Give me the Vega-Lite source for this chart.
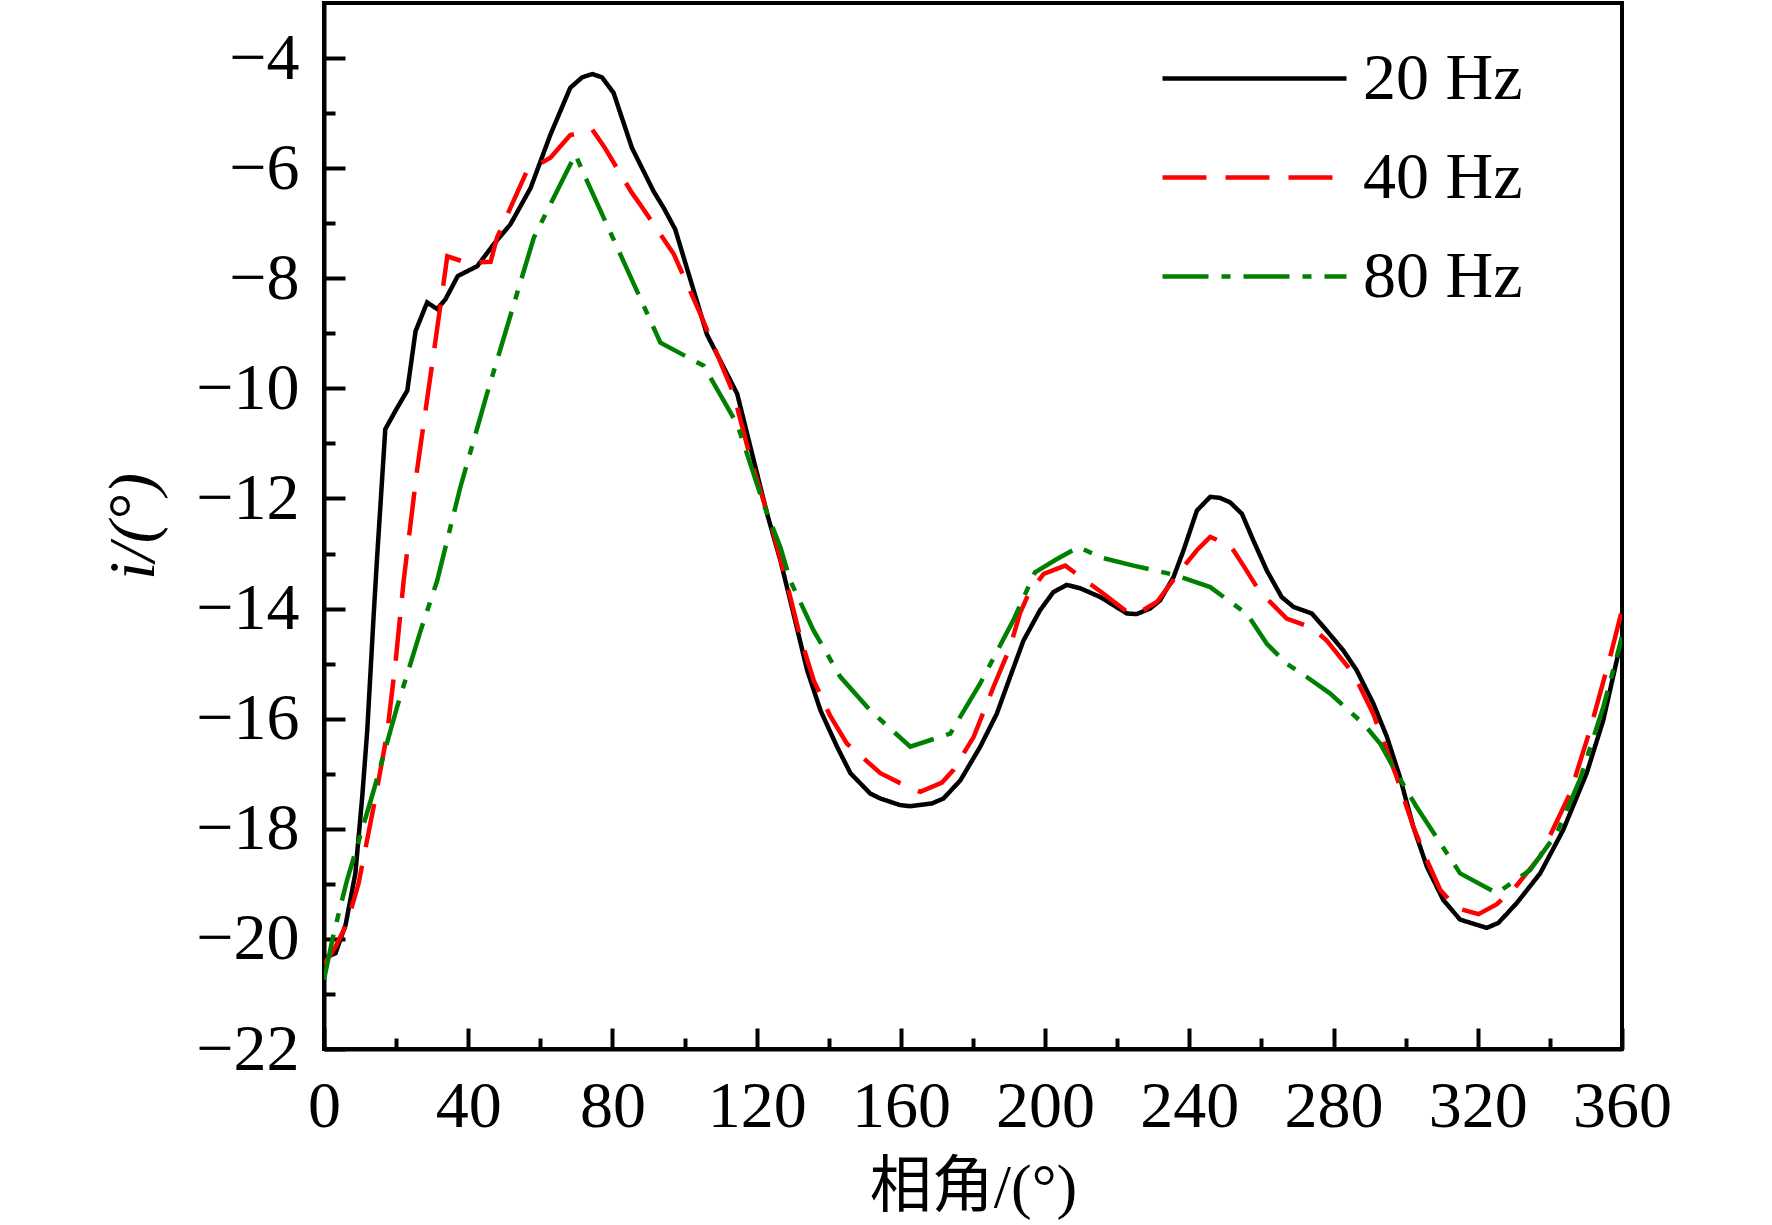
{
  "$schema": "https://vega.github.io/schema/vega-lite/v6.json",
  "description": "i versus phase angle at 20, 40 and 80 Hz",
  "width": 1298,
  "height": 1046,
  "autosize": {"type": "none"},
  "padding": {"left": 324, "top": 3, "right": 150, "bottom": 176},
  "background": "white",
  "datasets": {
    "curves": [
      {"phase": 0, "i": -20.35, "freq": "20 Hz"},
      {"phase": 3.2, "i": -20.26, "freq": "20 Hz"},
      {"phase": 6.0, "i": -19.74, "freq": "20 Hz"},
      {"phase": 8.7, "i": -18.81, "freq": "20 Hz"},
      {"phase": 10.6, "i": -17.42, "freq": "20 Hz"},
      {"phase": 12.0, "i": -16.21, "freq": "20 Hz"},
      {"phase": 13.8, "i": -14.09, "freq": "20 Hz"},
      {"phase": 14.7, "i": -13.1, "freq": "20 Hz"},
      {"phase": 17.0, "i": -10.74, "freq": "20 Hz"},
      {"phase": 19.8, "i": -10.41, "freq": "20 Hz"},
      {"phase": 23.1, "i": -10.04, "freq": "20 Hz"},
      {"phase": 25.4, "i": -8.96, "freq": "20 Hz"},
      {"phase": 28.6, "i": -8.44, "freq": "20 Hz"},
      {"phase": 31.4, "i": -8.56, "freq": "20 Hz"},
      {"phase": 33.7, "i": -8.38, "freq": "20 Hz"},
      {"phase": 37.1, "i": -7.96, "freq": "20 Hz"},
      {"phase": 42.5, "i": -7.78, "freq": "20 Hz"},
      {"phase": 47.1, "i": -7.38, "freq": "20 Hz"},
      {"phase": 51.7, "i": -7.02, "freq": "20 Hz"},
      {"phase": 57.3, "i": -6.36, "freq": "20 Hz"},
      {"phase": 62.8, "i": -5.39, "freq": "20 Hz"},
      {"phase": 68.3, "i": -4.54, "freq": "20 Hz"},
      {"phase": 71.6, "i": -4.35, "freq": "20 Hz"},
      {"phase": 74.4, "i": -4.29, "freq": "20 Hz"},
      {"phase": 77.1, "i": -4.35, "freq": "20 Hz"},
      {"phase": 80.3, "i": -4.63, "freq": "20 Hz"},
      {"phase": 85.4, "i": -5.63, "freq": "20 Hz"},
      {"phase": 91.4, "i": -6.42, "freq": "20 Hz"},
      {"phase": 94.2, "i": -6.72, "freq": "20 Hz"},
      {"phase": 97.4, "i": -7.11, "freq": "20 Hz"},
      {"phase": 106.2, "i": -9.02, "freq": "20 Hz"},
      {"phase": 114.6, "i": -10.1, "freq": "20 Hz"},
      {"phase": 119.2, "i": -11.31, "freq": "20 Hz"},
      {"phase": 122.9, "i": -12.28, "freq": "20 Hz"},
      {"phase": 126.6, "i": -13.13, "freq": "20 Hz"},
      {"phase": 130.2, "i": -14.09, "freq": "20 Hz"},
      {"phase": 134.0, "i": -15.12, "freq": "20 Hz"},
      {"phase": 137.7, "i": -15.85, "freq": "20 Hz"},
      {"phase": 142.3, "i": -16.51, "freq": "20 Hz"},
      {"phase": 146.0, "i": -16.99, "freq": "20 Hz"},
      {"phase": 151.5, "i": -17.36, "freq": "20 Hz"},
      {"phase": 154.3, "i": -17.45, "freq": "20 Hz"},
      {"phase": 159.8, "i": -17.57, "freq": "20 Hz"},
      {"phase": 162.6, "i": -17.59, "freq": "20 Hz"},
      {"phase": 168.6, "i": -17.54, "freq": "20 Hz"},
      {"phase": 171.8, "i": -17.45, "freq": "20 Hz"},
      {"phase": 176.5, "i": -17.12, "freq": "20 Hz"},
      {"phase": 182.0, "i": -16.51, "freq": "20 Hz"},
      {"phase": 186.6, "i": -15.91, "freq": "20 Hz"},
      {"phase": 190.3, "i": -15.24, "freq": "20 Hz"},
      {"phase": 194.0, "i": -14.58, "freq": "20 Hz"},
      {"phase": 198.6, "i": -14.03, "freq": "20 Hz"},
      {"phase": 202.3, "i": -13.7, "freq": "20 Hz"},
      {"phase": 206.0, "i": -13.57, "freq": "20 Hz"},
      {"phase": 209.7, "i": -13.63, "freq": "20 Hz"},
      {"phase": 215.3, "i": -13.79, "freq": "20 Hz"},
      {"phase": 219.0, "i": -13.94, "freq": "20 Hz"},
      {"phase": 222.7, "i": -14.09, "freq": "20 Hz"},
      {"phase": 225.4, "i": -14.1, "freq": "20 Hz"},
      {"phase": 229.1, "i": -14.0, "freq": "20 Hz"},
      {"phase": 231.9, "i": -13.85, "freq": "20 Hz"},
      {"phase": 235.6, "i": -13.43, "freq": "20 Hz"},
      {"phase": 238.4, "i": -12.94, "freq": "20 Hz"},
      {"phase": 242.1, "i": -12.22, "freq": "20 Hz"},
      {"phase": 245.8, "i": -11.97, "freq": "20 Hz"},
      {"phase": 248.5, "i": -11.99, "freq": "20 Hz"},
      {"phase": 251.3, "i": -12.07, "freq": "20 Hz"},
      {"phase": 254.6, "i": -12.28, "freq": "20 Hz"},
      {"phase": 257.8, "i": -12.77, "freq": "20 Hz"},
      {"phase": 261.5, "i": -13.31, "freq": "20 Hz"},
      {"phase": 265.6, "i": -13.79, "freq": "20 Hz"},
      {"phase": 268.9, "i": -13.97, "freq": "20 Hz"},
      {"phase": 274.0, "i": -14.09, "freq": "20 Hz"},
      {"phase": 278.1, "i": -14.4, "freq": "20 Hz"},
      {"phase": 282.7, "i": -14.76, "freq": "20 Hz"},
      {"phase": 286.4, "i": -15.12, "freq": "20 Hz"},
      {"phase": 291.0, "i": -15.72, "freq": "20 Hz"},
      {"phase": 294.8, "i": -16.33, "freq": "20 Hz"},
      {"phase": 298.4, "i": -17.06, "freq": "20 Hz"},
      {"phase": 302.1, "i": -17.96, "freq": "20 Hz"},
      {"phase": 305.9, "i": -18.69, "freq": "20 Hz"},
      {"phase": 310.4, "i": -19.29, "freq": "20 Hz"},
      {"phase": 315.1, "i": -19.65, "freq": "20 Hz"},
      {"phase": 322.5, "i": -19.8, "freq": "20 Hz"},
      {"phase": 325.7, "i": -19.71, "freq": "20 Hz"},
      {"phase": 330.8, "i": -19.35, "freq": "20 Hz"},
      {"phase": 337.3, "i": -18.81, "freq": "20 Hz"},
      {"phase": 343.7, "i": -18.02, "freq": "20 Hz"},
      {"phase": 350.2, "i": -16.99, "freq": "20 Hz"},
      {"phase": 354.8, "i": -16.03, "freq": "20 Hz"},
      {"phase": 360, "i": -14.52, "freq": "20 Hz"},

      {"phase": 0, "i": -20.47, "freq": "40 Hz"},
      {"phase": 3.2, "i": -20.14, "freq": "40 Hz"},
      {"phase": 6.4, "i": -19.72, "freq": "40 Hz"},
      {"phase": 9.6, "i": -18.99, "freq": "40 Hz"},
      {"phase": 14.3, "i": -17.42, "freq": "40 Hz"},
      {"phase": 17.5, "i": -16.27, "freq": "40 Hz"},
      {"phase": 19.8, "i": -15.0, "freq": "40 Hz"},
      {"phase": 22.1, "i": -13.49, "freq": "40 Hz"},
      {"phase": 25.8, "i": -11.49, "freq": "40 Hz"},
      {"phase": 30.9, "i": -9.14, "freq": "40 Hz"},
      {"phase": 34.2, "i": -7.6, "freq": "40 Hz"},
      {"phase": 39.7, "i": -7.72, "freq": "40 Hz"},
      {"phase": 46.2, "i": -7.7, "freq": "40 Hz"},
      {"phase": 48.0, "i": -7.26, "freq": "40 Hz"},
      {"phase": 56.3, "i": -6.05, "freq": "40 Hz"},
      {"phase": 62.8, "i": -5.81, "freq": "40 Hz"},
      {"phase": 68.3, "i": -5.4, "freq": "40 Hz"},
      {"phase": 74.4, "i": -5.3, "freq": "40 Hz"},
      {"phase": 77.6, "i": -5.6, "freq": "40 Hz"},
      {"phase": 85.4, "i": -6.45, "freq": "40 Hz"},
      {"phase": 87.7, "i": -6.66, "freq": "40 Hz"},
      {"phase": 97.0, "i": -7.56, "freq": "40 Hz"},
      {"phase": 104.4, "i": -8.65, "freq": "40 Hz"},
      {"phase": 113.6, "i": -10.1, "freq": "40 Hz"},
      {"phase": 118.2, "i": -11.25, "freq": "40 Hz"},
      {"phase": 124.7, "i": -12.64, "freq": "40 Hz"},
      {"phase": 128.4, "i": -13.55, "freq": "40 Hz"},
      {"phase": 132.1, "i": -14.52, "freq": "40 Hz"},
      {"phase": 135.8, "i": -15.3, "freq": "40 Hz"},
      {"phase": 140.4, "i": -15.95, "freq": "40 Hz"},
      {"phase": 145.0, "i": -16.45, "freq": "40 Hz"},
      {"phase": 154.3, "i": -16.99, "freq": "40 Hz"},
      {"phase": 159.8, "i": -17.17, "freq": "40 Hz"},
      {"phase": 165.4, "i": -17.33, "freq": "40 Hz"},
      {"phase": 171.4, "i": -17.16, "freq": "40 Hz"},
      {"phase": 174.6, "i": -16.93, "freq": "40 Hz"},
      {"phase": 180.2, "i": -16.33, "freq": "40 Hz"},
      {"phase": 185.7, "i": -15.42, "freq": "40 Hz"},
      {"phase": 190.3, "i": -14.7, "freq": "40 Hz"},
      {"phase": 193.0, "i": -14.09, "freq": "40 Hz"},
      {"phase": 195.4, "i": -13.73, "freq": "40 Hz"},
      {"phase": 199.6, "i": -13.37, "freq": "40 Hz"},
      {"phase": 205.6, "i": -13.22, "freq": "40 Hz"},
      {"phase": 210.6, "i": -13.46, "freq": "40 Hz"},
      {"phase": 216.2, "i": -13.73, "freq": "40 Hz"},
      {"phase": 222.7, "i": -14.06, "freq": "40 Hz"},
      {"phase": 225.9, "i": -14.08, "freq": "40 Hz"},
      {"phase": 231.0, "i": -13.88, "freq": "40 Hz"},
      {"phase": 237.5, "i": -13.31, "freq": "40 Hz"},
      {"phase": 242.1, "i": -12.94, "freq": "40 Hz"},
      {"phase": 245.8, "i": -12.7, "freq": "40 Hz"},
      {"phase": 251.3, "i": -12.85, "freq": "40 Hz"},
      {"phase": 255.0, "i": -13.22, "freq": "40 Hz"},
      {"phase": 259.6, "i": -13.7, "freq": "40 Hz"},
      {"phase": 262.4, "i": -13.88, "freq": "40 Hz"},
      {"phase": 267.0, "i": -14.18, "freq": "40 Hz"},
      {"phase": 274.0, "i": -14.35, "freq": "40 Hz"},
      {"phase": 278.1, "i": -14.58, "freq": "40 Hz"},
      {"phase": 285.5, "i": -15.18, "freq": "40 Hz"},
      {"phase": 291.0, "i": -15.91, "freq": "40 Hz"},
      {"phase": 297.5, "i": -17.06, "freq": "40 Hz"},
      {"phase": 302.1, "i": -17.96, "freq": "40 Hz"},
      {"phase": 305.9, "i": -18.57, "freq": "40 Hz"},
      {"phase": 309.6, "i": -19.11, "freq": "40 Hz"},
      {"phase": 314.2, "i": -19.44, "freq": "40 Hz"},
      {"phase": 320.2, "i": -19.55, "freq": "40 Hz"},
      {"phase": 325.3, "i": -19.37, "freq": "40 Hz"},
      {"phase": 330.8, "i": -19.03, "freq": "40 Hz"},
      {"phase": 337.3, "i": -18.5, "freq": "40 Hz"},
      {"phase": 345.6, "i": -17.36, "freq": "40 Hz"},
      {"phase": 351.1, "i": -16.21, "freq": "40 Hz"},
      {"phase": 356.7, "i": -14.88, "freq": "40 Hz"},
      {"phase": 360, "i": -14.03, "freq": "40 Hz"},

      {"phase": 0, "i": -20.74, "freq": "80 Hz"},
      {"phase": 2.7, "i": -19.9, "freq": "80 Hz"},
      {"phase": 6.4, "i": -18.93, "freq": "80 Hz"},
      {"phase": 13.8, "i": -17.3, "freq": "80 Hz"},
      {"phase": 20.3, "i": -15.78, "freq": "80 Hz"},
      {"phase": 26.8, "i": -14.4, "freq": "80 Hz"},
      {"phase": 31.4, "i": -13.49, "freq": "80 Hz"},
      {"phase": 37.8, "i": -11.8, "freq": "80 Hz"},
      {"phase": 45.2, "i": -10.1, "freq": "80 Hz"},
      {"phase": 58.2, "i": -7.26, "freq": "80 Hz"},
      {"phase": 69.7, "i": -5.75, "freq": "80 Hz"},
      {"phase": 73.0, "i": -6.24, "freq": "80 Hz"},
      {"phase": 93.3, "i": -9.17, "freq": "80 Hz"},
      {"phase": 105.3, "i": -9.59, "freq": "80 Hz"},
      {"phase": 114.6, "i": -10.65, "freq": "80 Hz"},
      {"phase": 121.9, "i": -12.1, "freq": "80 Hz"},
      {"phase": 126.6, "i": -12.89, "freq": "80 Hz"},
      {"phase": 129.3, "i": -13.49, "freq": "80 Hz"},
      {"phase": 135.8, "i": -14.4, "freq": "80 Hz"},
      {"phase": 143.2, "i": -15.24, "freq": "80 Hz"},
      {"phase": 151.5, "i": -15.85, "freq": "80 Hz"},
      {"phase": 162.6, "i": -16.51, "freq": "80 Hz"},
      {"phase": 173.7, "i": -16.27, "freq": "80 Hz"},
      {"phase": 182.0, "i": -15.36, "freq": "80 Hz"},
      {"phase": 191.2, "i": -14.21, "freq": "80 Hz"},
      {"phase": 197.2, "i": -13.34, "freq": "80 Hz"},
      {"phase": 203.3, "i": -13.1, "freq": "80 Hz"},
      {"phase": 209.3, "i": -12.88, "freq": "80 Hz"},
      {"phase": 215.3, "i": -13.07, "freq": "80 Hz"},
      {"phase": 224.5, "i": -13.22, "freq": "80 Hz"},
      {"phase": 236.1, "i": -13.39, "freq": "80 Hz"},
      {"phase": 245.8, "i": -13.61, "freq": "80 Hz"},
      {"phase": 256.0, "i": -14.1, "freq": "80 Hz"},
      {"phase": 261.5, "i": -14.64, "freq": "80 Hz"},
      {"phase": 267.0, "i": -15.0, "freq": "80 Hz"},
      {"phase": 271.2, "i": -15.18, "freq": "80 Hz"},
      {"phase": 279.0, "i": -15.54, "freq": "80 Hz"},
      {"phase": 288.7, "i": -16.12, "freq": "80 Hz"},
      {"phase": 292.9, "i": -16.45, "freq": "80 Hz"},
      {"phase": 297.5, "i": -16.99, "freq": "80 Hz"},
      {"phase": 303.0, "i": -17.6, "freq": "80 Hz"},
      {"phase": 309.6, "i": -18.26, "freq": "80 Hz"},
      {"phase": 315.1, "i": -18.81, "freq": "80 Hz"},
      {"phase": 325.3, "i": -19.17, "freq": "80 Hz"},
      {"phase": 334.5, "i": -18.75, "freq": "80 Hz"},
      {"phase": 341.9, "i": -18.08, "freq": "80 Hz"},
      {"phase": 348.3, "i": -17.11, "freq": "80 Hz"},
      {"phase": 354.8, "i": -15.79, "freq": "80 Hz"},
      {"phase": 360, "i": -14.52, "freq": "80 Hz"}
    ]
  },
  "data": {"name": "curves"},
  "layer": [
    {
      "mark": {"type": "line", "strokeWidth": 4.5, "strokeCap": "butt", "clip": true},
      "encoding": {
        "x": {
          "field": "phase",
          "type": "quantitative",
          "scale": {"domain": [0, 360], "nice": false, "zero": false},
          "axis": {
            "orient": "bottom",
            "values": [0, 40, 80, 120, 160, 200, 240, 280, 320, 360],
            "format": "d",
            "tickSize": -21,
            "labelPadding": 46,
            "labelFlush": false,
            "title": "相角/(°)",
            "titleFont": "Liberation Serif, Noto Sans CJK SC",
            "titleFontSize": 62,
            "titlePadding": 18
          }
        },
        "y": {
          "field": "i",
          "type": "quantitative",
          "scale": {"domain": [-22, -3], "nice": false, "zero": false},
          "axis": {
            "orient": "left",
            "values": [-22, -20, -18, -16, -14, -12, -10, -8, -6, -4],
            "format": "d",
            "tickSize": -21,
            "labelPadding": 46,
            "title": "i/(°)",
            "titleFontStyle": "italic",
            "titleFontSize": 66,
            "titlePadding": 28
          }
        },
        "color": {
          "field": "freq",
          "type": "nominal",
          "scale": {"domain": ["20 Hz", "40 Hz", "80 Hz"], "range": ["#000000", "#ff0000", "#008000"]},
          "legend": {"title": null}
        },
        "strokeDash": {
          "field": "freq",
          "type": "nominal",
          "scale": {"domain": ["20 Hz", "40 Hz", "80 Hz"], "range": [[1, 0], [44, 19], [46, 13, 9, 13]]},
          "legend": {"title": null}
        }
      }
    },
    {
      "mark": {"type": "line", "opacity": 0},
      "encoding": {
        "x": {
          "field": "phase",
          "type": "quantitative",
          "axis": {
            "orient": "bottom",
            "values": [20, 60, 100, 140, 180, 220, 260, 300, 340],
            "tickSize": -11,
            "labels": false,
            "domain": false,
            "title": null
          }
        },
        "y": {
          "field": "i",
          "type": "quantitative",
          "axis": {
            "orient": "left",
            "values": [-21, -19, -17, -15, -13, -11, -9, -7, -5],
            "tickSize": -11,
            "labels": false,
            "domain": false,
            "title": null
          }
        },
        "detail": {"field": "freq", "type": "nominal"}
      }
    }
  ],
  "resolve": {"axis": {"x": "independent", "y": "independent"}},
  "config": {
    "view": {"stroke": "#000000", "strokeWidth": 4},
    "font": "Liberation Serif",
    "axis": {
      "grid": false,
      "domainColor": "#000000",
      "domainWidth": 4,
      "tickColor": "#000000",
      "tickWidth": 4,
      "labelFont": "Liberation Serif",
      "labelFontSize": 66,
      "labelColor": "#000000",
      "titleFont": "Liberation Serif",
      "titleFontWeight": "normal",
      "titleColor": "#000000"
    },
    "legend": {
      "orient": "none",
      "legendX": 836,
      "legendY": 26,
      "direction": "vertical",
      "padding": 0,
      "symbolType": "stroke",
      "symbolSize": 33856,
      "symbolStrokeWidth": 4.5,
      "clipHeight": 99,
      "rowPadding": 0,
      "labelFont": "Liberation Serif",
      "labelFontSize": 66,
      "labelColor": "#000000",
      "labelOffset": 14,
      "labelLimit": 400
    }
  }
}
